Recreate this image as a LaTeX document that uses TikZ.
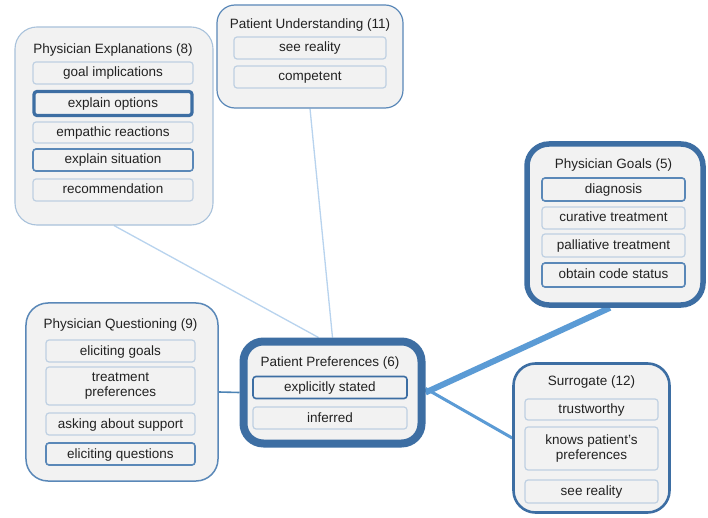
\documentclass[tikz,border=0pt]{standalone}
\usepackage{fontspec}
\setmainfont{Liberation Sans}
\usetikzlibrary{backgrounds}
\definecolor{darkb}{HTML}{3D6EA3}
\definecolor{midb}{HTML}{5A88B8}
\definecolor{lightb}{HTML}{A9C2DB}
\definecolor{ibord}{HTML}{BFD0E2}
\definecolor{boxfill}{HTML}{F2F2F2}
\definecolor{txt}{HTML}{222222}
\definecolor{lnthick}{HTML}{5B9BD5}
\definecolor{lnthin}{HTML}{B8D3EE}
\begin{document}
\begin{tikzpicture}[x=1bp,y=-1bp,
  every node/.style={font=\fontsize{13.5bp}{15bp}\selectfont, text=txt},
  outer/.style={draw, fill=boxfill, rounded corners=22bp, inner sep=0pt},
  title/.style={inner sep=0pt, anchor=center},
  ibox/.style={draw=ibord, line width=1.2bp, fill=boxfill, rounded corners=3bp, inner sep=0pt, align=center, text height=10bp, text depth=2bp},
  itwo/.style={ibox, text height={}, text depth={}},
  ihi/.style={ibox, draw=midb, line width=1.6bp},
  ihh/.style={ibox, draw=darkb, line width=3.2bp},
  conn/.style={line cap=butt}]
\useasboundingbox (0,0) rectangle (708,518);

% Physician Explanations
\node[outer, draw=lightb, line width=1.1bp, minimum width=198bp, minimum height=198bp] (pe) at (114,126) {};
\node[title] (pet) at (113,50) {Physician Explanations (8)};
\node[ibox, minimum width=160bp, minimum height=22bp] (pe1) at (113,73) {goal implications};
\node[ihh, minimum width=158bp, minimum height=24bp] (pe2) at (113,103.5) {explain options};
\node[ibox, minimum width=160bp, minimum height=21bp] (pe3) at (113,132.5) {empathic reactions};
\node[ihi, minimum width=160bp, minimum height=22bp] (pe4) at (113,160) {explain situation};
\node[ibox, minimum width=160bp, minimum height=22bp] (pe5) at (113,190) {recommendation};

% Patient Understanding
\node[outer, draw=midb, line width=1.2bp, minimum width=186bp, minimum height=103bp, rounded corners=18bp] (pu) at (310,56.5) {};
\node[title] (put) at (310,25) {Patient Understanding (11)};
\node[ibox, minimum width=152bp, minimum height=22bp] (pu1) at (310,48) {see reality};
\node[ibox, minimum width=152bp, minimum height=22bp] (pu2) at (310,77) {competent};

% Physician Goals
\node[outer, draw=darkb, line width=5.5bp, minimum width=176bp, minimum height=161bp, rounded corners=22bp] (pg) at (615,224.5) {};
\node[title] (pgt) at (613.5,165) {Physician Goals (5)};
\node[ihi, minimum width=143bp, minimum height=23bp] (pg1) at (613.5,189.5) {diagnosis};
\node[ibox, minimum width=143bp, minimum height=22bp] (pg2) at (613.5,218) {curative treatment};
\node[ibox, minimum width=143bp, minimum height=23bp] (pg3) at (613.5,245.5) {palliative treatment};
\node[ihi, minimum width=143bp, minimum height=24bp] (pg4) at (613.5,275) {obtain code status};

% Physician Questioning
\node[outer, draw=midb, line width=1.5bp, minimum width=192bp, minimum height=178bp] (pq) at (122,392) {};
\node[title] (pqt) at (120.5,325) {Physician Questioning (9)};
\node[ibox, minimum width=149bp, minimum height=22bp] (pq1) at (120.5,351) {eliciting goals};
\node[itwo, minimum width=149bp, minimum height=38bp] (pq2) at (120.5,386) {treatment\\preferences};
\node[ibox, minimum width=149bp, minimum height=22bp] (pq3) at (120.5,424) {asking about support};
\node[ihi, minimum width=149bp, minimum height=22bp] (pq4) at (120.5,454) {eliciting questions};

% Patient Preferences
\node[outer, draw=darkb, line width=8bp, minimum width=178bp, minimum height=102bp, rounded corners=20bp] (pp) at (332.5,392.5) {};
\node[title] (ppt) at (330,363) {Patient Preferences (6)};
\node[ibox, draw=darkb, line width=1.6bp, minimum width=154bp, minimum height=22bp] (pp1) at (330,387.5) {explicitly stated};
\node[ibox, minimum width=154bp, minimum height=22bp] (pp2) at (330,418) {inferred};

% Surrogate
\node[outer, draw=darkb, line width=2.6bp, minimum width=156bp, minimum height=149bp, rounded corners=22bp] (su) at (591.5,438) {};
\node[title] (sut) at (591.5,382) {Surrogate (12)};
\node[ibox, minimum width=133bp, minimum height=21bp] (su1) at (591.5,409.5) {trustworthy};
\node[itwo, minimum width=133bp, minimum height=43bp] (su2) at (591.5,448.5) {knows patient's\\preferences};
\node[ibox, minimum width=133bp, minimum height=23bp] (su3) at (591.5,491.5) {see reality};

\begin{pgfonlayer}{background}
  \fill[white] (0,0) rectangle (708,518);
  \draw[conn, lnthin, line width=1.3bp] (pu.south) -- (pp.north);
  \draw[conn, lnthin, line width=1.3bp] (pe.south) -- ([xshift=-14bp]pp.north);
  \draw[conn, lnthick!85!black, line width=1.6bp] (pq.east) -- (pp.west);
  \draw[conn, lnthick, line width=6bp] ([xshift=-5bp]pg.south) -- (pp.east);
  \draw[conn, lnthick, line width=3bp] ([yshift=4bp]pp.east) -- (su.west);
\end{pgfonlayer}
\end{tikzpicture}
\end{document}
